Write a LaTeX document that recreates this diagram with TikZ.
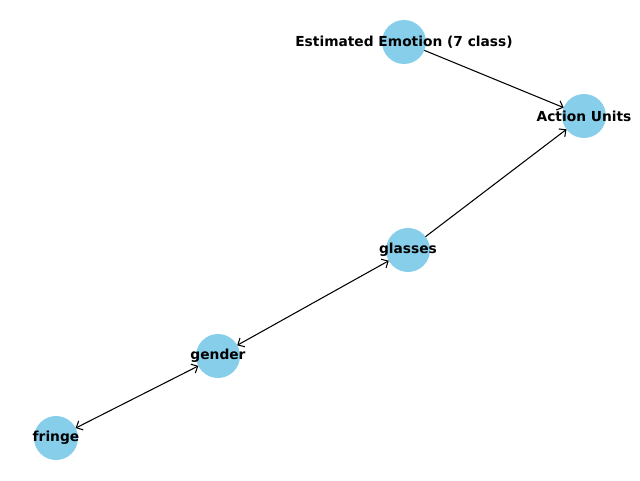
\documentclass[tikz,border=0pt]{standalone}
\usepackage{fontspec}
\setmainfont{DejaVu Sans}
\usetikzlibrary{arrows.meta}
\definecolor{skyblue}{RGB}{135,206,235}
\tikzset{
 vert/.style={circle,fill=skyblue,minimum size=1.1cm,inner sep=0pt,outer sep=0pt,
   label={[font=\fontsize{9.8}{12}\selectfont\bfseries]center:#1}},
 edge/.style={line width=0.75pt,-{Straight Barb[length=1.3mm,width=2.5mm]}},
 biedge/.style={line width=0.75pt,{Straight Barb[length=1.3mm,width=2.5mm]}-{Straight Barb[length=1.3mm,width=2.5mm]}}
}
\begin{document}
\begin{tikzpicture}
\useasboundingbox (0,0) rectangle (16,12);

\node[vert={Estimated Emotion (7 class)}] (emotion) at (10.1,10.95) {};
\node[vert={Action Units}] (au) at (14.6,9.1) {};
\node[vert={glasses}] (glasses) at (10.2,5.75) {};
\node[vert={gender}] (gender) at (5.45,3.1) {};
\node[vert={fringe}] (fringe) at (1.4,1.05) {};

\draw[edge] (emotion) -- (au);
\draw[edge] (glasses) -- (au);
\draw[biedge] (glasses) -- (gender);
\draw[biedge] (gender) -- (fringe);

\end{tikzpicture}
\end{document}
